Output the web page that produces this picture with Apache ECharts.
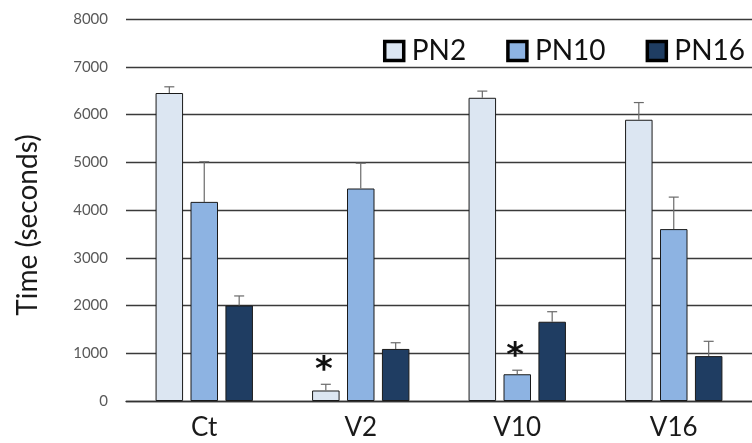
<!DOCTYPE html>
<html>
<head>
<meta charset="utf-8">
<script src="https://cdn.jsdelivr.net/npm/echarts@6/dist/echarts.min.js"></script>
<style>
html,body{margin:0;padding:0;background:#fff;}
#chart{width:752px;height:443px;}
</style>
</head>
<body>
<div id="chart"></div>
<script>
const categories = ['Ct', 'V2', 'V10', 'V16'];
const seriesNames = ['PN2', 'PN10', 'PN16'];
const pn2 = [6450, 220, 6350, 5890];
const pn2Err = [130, 130, 140, 360];
const pn10 = [4170, 4450, 560, 3600];
const pn10Err = [840, 530, 85, 670];
const pn16 = [2000, 1090, 1660, 940];
const pn16Err = [200, 130, 210, 310];
const pn2Sig = ['', '*', '', ''];
const pn10Sig = ['', '', '*', ''];
const pn16Sig = ['', '', '', ''];
const yMin = 0, yMax = 8000, yInterval = 1000;

const colors = ['#dce6f2', '#8db3e2', '#1f3d62'];
const BAR_W = 27.5;
const BAR_GAP = 0.27;
const STRIDE = BAR_W * (1 + BAR_GAP);

const values = [pn2, pn10, pn16];
const errs = [pn2Err, pn10Err, pn16Err];
const sigs = [pn2Sig, pn10Sig, pn16Sig];

const FONT = 'Lato';

const series = [];
seriesNames.forEach(function (name, i) {
  series.push({
    name: name,
    type: 'bar',
    barWidth: BAR_W,
    barGap: (BAR_GAP * 100) + '%',
    data: values[i],
    itemStyle: { color: colors[i], borderColor: '#1a1a1a', borderWidth: 1 },
    emphasis: { disabled: true },
    z: 2
  });
});
seriesNames.forEach(function (name, i) {
  const offset = (i - 1) * STRIDE;
  series.push({
    name: name + ' error',
    type: 'custom',
    z: 3,
    silent: true,
    data: categories.map(function (c, k) { return [k, values[i][k], errs[i][k]]; }),
    encode: { x: 0, y: 1 },
    renderItem: function (params, api) {
      const k = api.value(0);
      const v = api.value(1);
      const e = api.value(2);
      const sig = sigs[i][params.dataIndex];
      const base = api.coord([k, v]);
      const top = api.coord([k, v + e]);
      const x = base[0] + offset;
      const children = [
        { type: 'line', shape: { x1: x, y1: base[1], x2: x, y2: top[1] }, style: { stroke: '#6a6a6a', lineWidth: 1.2 } },
        { type: 'line', shape: { x1: x - 5, y1: top[1], x2: x + 5, y2: top[1] }, style: { stroke: '#6a6a6a', lineWidth: 1.2 } }
      ];
      if (sig) {
        children.push({
          type: 'text',
          style: {
            text: sig, x: x - 2, y: top[1] + 4,
            align: 'center', verticalAlign: 'bottom',
            font: 'bold 34px "DejaVu Sans"', fill: '#111'
          }
        });
      }
      return { type: 'group', children: children };
    }
  });
});

const chart = echarts.init(document.getElementById('chart'), null, { renderer: 'canvas' });
chart.setOption({
  animation: false,
  backgroundColor: '#fff',
  grid: { left: 126, right: 0, top: 19, bottom: 42, containLabel: false },
  legend: {
    data: seriesNames.map(function (n) {
      return { name: n, icon: 'rect', itemStyle: { borderColor: '#000', borderWidth: 3.5 } };
    }),
    right: 2,
    top: 32,
    itemWidth: 19,
    itemHeight: 19,
    itemGap: 40,
    itemStyle: { borderColor: '#000', borderWidth: 3.5 },
    textStyle: { fontFamily: FONT, fontSize: 28, color: '#111', padding: [0, 0, 0, 3] },
    selectedMode: false
  },
  xAxis: {
    type: 'category',
    data: categories,
    axisLine: { show: true, lineStyle: { color: '#333', width: 1.3 } },
    axisTick: { show: false },
    axisLabel: { fontFamily: FONT, fontSize: 26, color: '#1a1a1a', margin: 14 }
  },
  yAxis: {
    type: 'value',
    min: yMin,
    max: yMax,
    interval: yInterval,
    name: 'Time (seconds)',
    nameLocation: 'middle',
    nameGap: 84,
    nameRotate: 90,
    nameTextStyle: { fontFamily: FONT, fontSize: 28, color: '#1a1a1a', padding: [0, 30, 0, 0] },
    axisLine: { show: false },
    axisTick: { show: false },
    axisLabel: {
      fontFamily: FONT, fontSize: 15, color: '#595959', margin: 18,
      formatter: function (v) { return String(v); }
    },
    splitLine: { show: true, lineStyle: { color: '#3a3a3a', width: 1.3 } }
  },
  series: series
});
</script>
</body>
</html>
